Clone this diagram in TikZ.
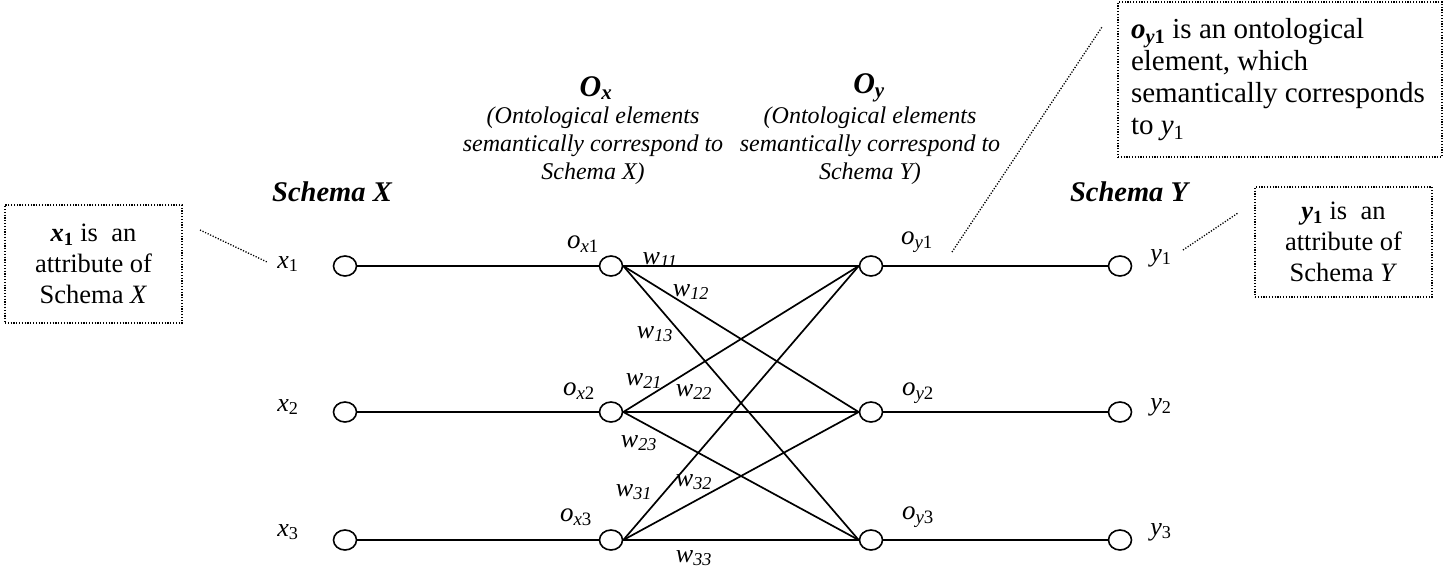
\documentclass[tikz,border=0pt]{standalone}
\usepackage{fontspec}
\setmainfont{Liberation Serif}
\usetikzlibrary{shapes.geometric}
\hyphenpenalty=10000
\exhyphenpenalty=10000
\begin{document}
\begin{tikzpicture}[x=1pt,y=-1pt,
  nd/.style={draw, ellipse, line width=1.6pt, minimum width=23pt, minimum height=20pt, inner sep=0pt, fill=white},
  lk/.style={line width=1.7pt},
  dotl/.style={line width=1.3pt, dash pattern=on 1.2pt off 1.6pt},
  lab/.style={font=\fontsize{26}{30}\selectfont, inner sep=0pt},
  olab/.style={font=\fontsize{27}{30}\selectfont, inner sep=0pt},
  wl/.style={font=\fontsize{26}{30}\selectfont\itshape, inner sep=0pt},
  sch/.style={font=\fontsize{28.5}{32}\selectfont\bfseries\itshape, inner sep=0pt},
  big/.style={font=\fontsize{30}{32}\selectfont\bfseries\itshape, inner sep=0pt},
  sub/.style={font=\fontsize{24}{28}\selectfont\itshape, align=center, inner sep=0pt},
  abox/.style={draw, line width=1.2pt, dash pattern=on 1.2pt off 1.6pt, font=\fontsize{26.5}{31}\selectfont, align=center, inner sep=0pt},
  tbox/.style={draw, line width=1.2pt, dash pattern=on 1.2pt off 1.6pt, font=\fontsize{29}{32}\selectfont, align=flush left, inner sep=0pt}
]
\useasboundingbox (0,0) rectangle (1456,576);

% columns of nodes
\node[nd] (x1) at (345,266) {};
\node[nd] (x2) at (345,412) {};
\node[nd] (x3) at (345,540) {};
\node[nd] (ox1) at (611,266) {};
\node[nd] (ox2) at (611,412) {};
\node[nd] (ox3) at (611,540) {};
\node[nd] (oy1) at (871,266) {};
\node[nd] (oy2) at (871,412) {};
\node[nd] (oy3) at (871,540) {};
\node[nd] (y1) at (1120,266) {};
\node[nd] (y2) at (1120,412) {};
\node[nd] (y3) at (1120,540) {};

% connectors
\foreach \i in {1,2,3}{
  \draw[lk] (x\i.east) -- (ox\i.west);
  \draw[lk] (oy\i.east) -- (y\i.west);
  \foreach \j in {1,2,3}{
    \draw[lk] (ox\i.east) -- (oy\j.west);
  }
}

% node labels
\node[lab] (lx1) at (288,264) {\textit{x}\textsubscript{1}};
\node[lab] (lx2) at (288,407) {\textit{x}\textsubscript{2}};
\node[lab] (lx3) at (288,532) {\textit{x}\textsubscript{3}};
\node[lab] (ly1) at (1161,258) {\textit{y}\textsubscript{1}};
\node[lab] (ly2) at (1161,407) {\textit{y}\textsubscript{2}};
\node[lab] (ly3) at (1161,532) {\textit{y}\textsubscript{3}};
\node[olab] (lox1) at (583,244) {\textit{o}\textsubscript{\textit{x}1}};
\node[olab] (lox2) at (579,391) {\textit{o}\textsubscript{\textit{x}2}};
\node[olab] (lox3) at (576,517) {\textit{o}\textsubscript{\textit{x}3}};
\node[olab] (loy1) at (917,242) {\textit{o}\textsubscript{\textit{y}1}};
\node[olab] (loy2) at (918,393) {\textit{o}\textsubscript{\textit{y}2}};
\node[olab] (loy3) at (918,517) {\textit{o}\textsubscript{\textit{y}3}};

% weights
\node[wl] (w11) at (660,260) {w\textsubscript{11}};
\node[wl] (w12) at (691,292) {w\textsubscript{12}};
\node[wl] (w13) at (655,334) {w\textsubscript{13}};
\node[wl] (w21) at (644,381) {w\textsubscript{21}};
\node[wl] (w22) at (694,392) {w\textsubscript{22}};
\node[wl] (w23) at (639,443) {w\textsubscript{23}};
\node[wl] (w31) at (634,492) {w\textsubscript{31}};
\node[wl] (w32) at (694,482) {w\textsubscript{32}};
\node[wl] (w33) at (694,558) {w\textsubscript{33}};

% headings
\node[sch] (sx) at (332,192) {Schema X};
\node[sch] (sy) at (1129,192) {Schema Y};
\node[big] (Ox) at (596,88) {O\textsubscript{x}};
\node[big] (Oy) at (869,88) {O\textsubscript{y}};
\node[sub] (tx) at (593,146) {(Ontological elements\\semantically correspond to\\Schema X)};
\node[sub] (ty) at (870,146) {(Ontological elements\\semantically correspond to\\Schema Y)};

% annotation boxes
\node[abox, minimum width=177pt, minimum height=118pt] (bx) at (93.5,264)
  {{\bfseries\itshape x}\textsubscript{\bfseries 1} is\ \ an\\attribute of\\Schema \textit{X}};
\node[abox, minimum width=177pt, minimum height=110pt] (by) at (1343.5,242)
  {{\bfseries\itshape y}\textsubscript{\bfseries 1} is\ \ an\\attribute of\\Schema \textit{Y}};
\node[tbox, minimum width=324pt, minimum height=155pt, text width=298pt, inner xsep=13pt] (bo) at (1280,79.5)
  {{\bfseries\itshape o}\textsubscript{\bfseries\itshape y\upshape 1} is an ontological\\element, which\\semantically corresponds\\to \textit{y}\textsubscript{1}};

% dotted leaders
\coordinate (a1) at (200,230);
\coordinate (a2) at (267,262);
\coordinate (b1) at (1183,250);
\coordinate (b2) at (1238,213);
\coordinate (c1) at (952,252);
\coordinate (c2) at (1102,27);
\draw[dotl] (a1) -- (a2);
\draw[dotl] (b1) -- (b2);
\draw[dotl] (c1) -- (c2);
\end{tikzpicture}
\end{document}
